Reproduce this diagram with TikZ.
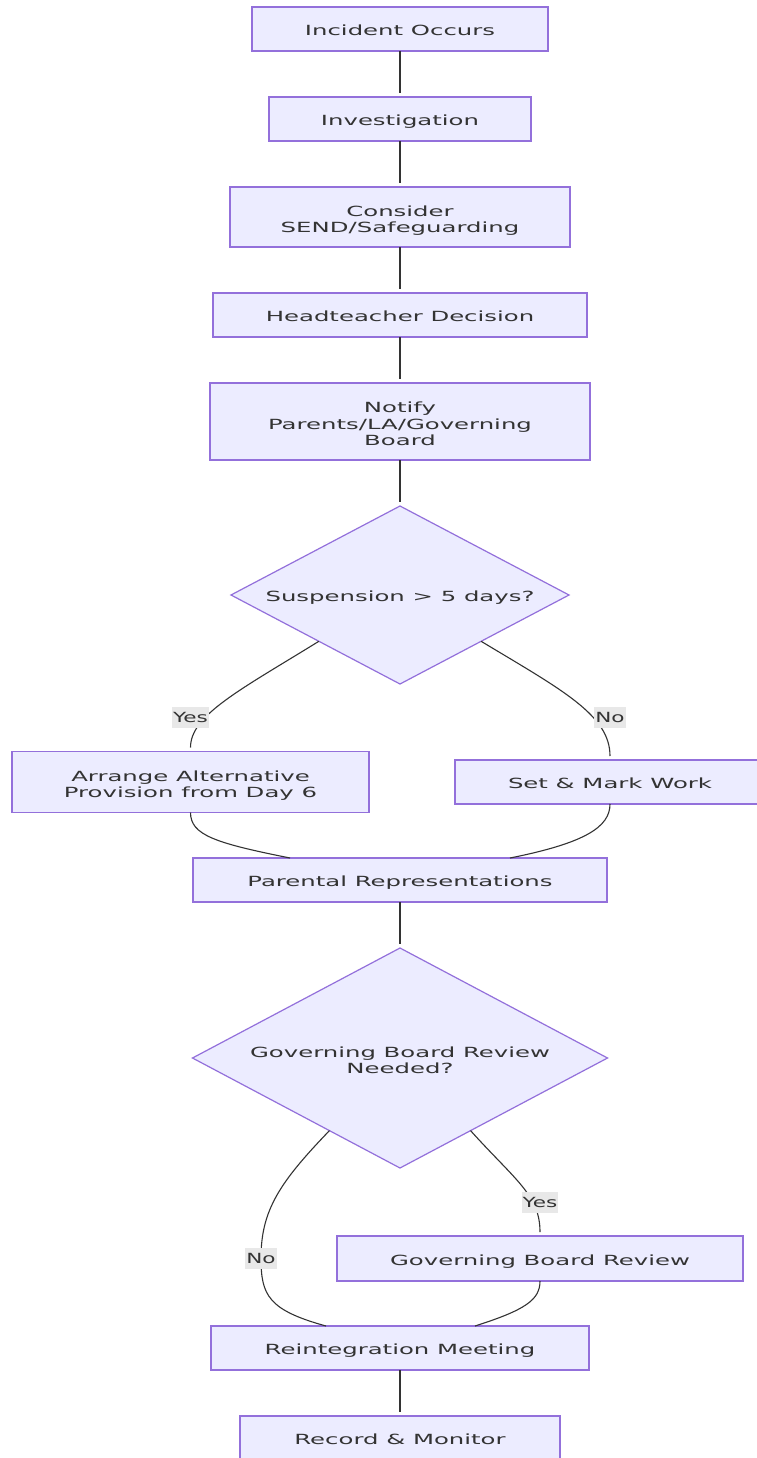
\documentclass[tikz,border=0pt]{standalone}
\usepackage{fontspec}
\setmainfont{DejaVu Sans}[FakeStretch=1.74]
\newfontfamily\lblfont{DejaVu Sans}[FakeStretch=1.54]
\usetikzlibrary{shapes.geometric,calc}
\definecolor{nodefill}{HTML}{ECECFF}
\definecolor{nodedraw}{HTML}{9370DB}
\definecolor{edgecol}{HTML}{333333}
\definecolor{lblfill}{HTML}{E8E8E8}
\definecolor{txt}{HTML}{333333}
\newcommand{\firststrut}{\rule{0pt}{15pt}}
\begin{document}
\begin{tikzpicture}[x=1pt,y=-1pt,
  box/.style={draw=nodedraw,fill=nodefill,line width=1.2pt,inner sep=0pt,outer sep=0pt,align=center,text=txt,font=\fontsize{14}{16.5}\selectfont},
  one/.style={text height=13pt,text depth=0pt},
  multi/.style={text depth=0pt},
  dia/.style={diamond,draw=nodedraw,fill=nodefill,line width=1.2pt,inner sep=0pt,outer sep=0pt},
  dtext/.style={align=center,text=txt,font=\fontsize{14}{16.5}\selectfont},
  edge/.style={draw=edgecol,line width=1.1pt},
  toend/.style={shorten >=4pt},
  lbl/.style={fill=lblfill,text=txt,font=\lblfont\fontsize{14}{17}\selectfont,inner xsep=1pt,inner ysep=0pt,minimum height=21pt}]
\fill[white] (0,0) rectangle (756,1458);
\useasboundingbox (0,0) rectangle (756,1458);

% nodes
\node[box,one,minimum width=296pt,minimum height=44pt] (n1) at (400,29) {Incident Occurs};
\node[box,one,minimum width=262pt,minimum height=44pt] (n2) at (400,119) {Investigation};
\node[box,multi,minimum width=340pt,minimum height=60pt] (n3) at (400,217) {\firststrut Consider\\SEND/Safeguarding};
\node[box,one,minimum width=374pt,minimum height=44pt] (n4) at (400,315) {Headteacher Decision};
\node[box,multi,minimum width=380pt,minimum height=77pt] (n5) at (400,421.5) {\firststrut Notify\\Parents/LA/Governing\\Board};
\node[dia,minimum width=338pt,minimum height=178pt,label={[dtext,one]center:Suspension > 5 days?}] (d1) at (400,595) {};
\node[box,multi,minimum width=357pt,minimum height=61pt] (n7) at (190.5,782) {\firststrut Arrange Alternative\\Provision from Day 6};
\node[box,one,minimum width=310pt,minimum height=44pt] (n8) at (610,782) {Set \& Mark Work};
\node[box,one,minimum width=414pt,minimum height=44pt] (n9) at (400,880) {Parental Representations};
\node[dia,minimum width=415pt,minimum height=220pt,label={[dtext,multi]center:\firststrut Governing Board Review\\Needed?}] (d2) at (400,1058) {};
\node[box,one,minimum width=406pt,minimum height=45pt] (n11) at (540,1258.5) {Governing Board Review};
\node[box,one,minimum width=378pt,minimum height=44pt] (n12) at (400,1348) {Reintegration Meeting};
\node[box,one,minimum width=320pt,minimum height=44pt] (n13) at (400,1438) {Record \& Monitor};

% straight connectors
\draw[edge,toend] (n1.south) -- (n2.north);
\draw[edge,toend] (n2.south) -- (n3.north);
\draw[edge,toend] (n3.south) -- (n4.north);
\draw[edge,toend] (n4.south) -- (n5.north);
\draw[edge,toend] (n5.south) -- (d1.north);
\draw[edge,toend] (n9.south) -- (d2.north);
\draw[edge,toend] (n12.south) -- (n13.north);

% decision 1
\draw[edge,toend] ($(d1.west)!0.52!(d1.south)$) .. controls (240,690) and (190.5,715) .. (n7.north);
\draw[edge,toend] ($(d1.east)!0.52!(d1.south)$) .. controls (562,690) and (610,715) .. (n8.north);
\node[lbl] (l1) at (190.5,717.5) {Yes};
\node[lbl] (l2) at (610,717.5) {No};
\draw[edge] (n7.south) .. controls (190.5,835) and (215,843) .. ($(n9.north)+(-110,0)$);
\draw[edge] (n8.south) .. controls (610,827) and (585,843) .. ($(n9.north)+(110,0)$);

% decision 2
\draw[edge] ($(d2.west)!0.66!(d2.south)$) .. controls (280,1182) and (261,1210) .. (261,1258)
  .. controls (261,1295) and (268,1310) .. ($(n12.north)+(-74,0)$);
\draw[edge,toend] ($(d2.east)!0.66!(d2.south)$) .. controls (515,1180) and (540,1195) .. (n11.north);
\node[lbl] (l3) at (261,1258) {No};
\node[lbl] (l4) at (540,1202) {Yes};
\draw[edge] (n11.south) .. controls (540,1300) and (525,1310) .. ($(n12.north)+(75,0)$);
\end{tikzpicture}
\end{document}
